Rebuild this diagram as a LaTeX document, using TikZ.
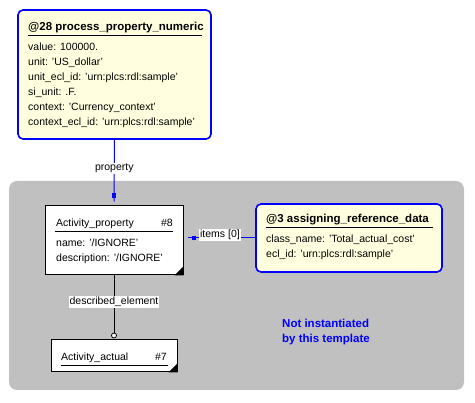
\documentclass[tikz,border=0pt]{standalone}
\usepackage{fontspec}
\setmainfont{Liberation Sans}
\usetikzlibrary{calc}
\definecolor{paleyellow}{RGB}{255,255,224}
\definecolor{panelgray}{RGB}{192,192,192}
\definecolor{pureblue}{RGB}{0,0,255}
\begin{document}
\begin{tikzpicture}[x=1pt,y=-1pt,
  entbox/.style={draw=pureblue, line width=1.6pt, rounded corners=5pt, fill=paleyellow, inner sep=0},
  objbox/.style={draw=black, line width=1pt, fill=white, inner sep=0},
  attr/.style={anchor=base west, inner sep=0, font=\fontsize{10.5}{12}\selectfont},
  attrr/.style={anchor=base east, inner sep=0, font=\fontsize{10.5}{12}\selectfont},
  ttl/.style={anchor=base west, inner sep=0, font=\fontsize{11.5}{13}\selectfont\bfseries},
  note/.style={anchor=base west, inner sep=0, text=pureblue, font=\fontsize{11.5}{13}\selectfont\bfseries},
  lbl/.style={fill=white, text=black, inner sep=1pt, font=\fontsize{10.5}{12}\selectfont},
  conn/.style={pureblue, line width=1pt},
  bconn/.style={black, line width=1pt},
  sq/.style={fill=pureblue, minimum size=4.5pt, inner sep=0},
  uline/.style={line width=1pt},
  corner/.style={fill=black}]
\useasboundingbox (0,0) rectangle (475,403);

% gray panel
\fill[panelgray, rounded corners=8pt] (9,181) rectangle (464,390);

% boxes
\node[entbox, minimum width=193pt, minimum height=129pt] (ppn) at (114.5,74.5) {};
\node[objbox, minimum width=138pt, minimum height=69pt] (ap) at (114,240.5) {};
\node[entbox, minimum width=186pt, minimum height=68pt] (asg) at (349,238) {};
\node[objbox, minimum width=126pt, minimum height=32pt] (aa) at (114,356) {};

% corner triangles
\fill[corner] (ap.south east) -- ++(-9,0) -- ++(9,-9) -- cycle;
\fill[corner] (aa.south east) -- ++(-9,0) -- ++(9,-9) -- cycle;

% texts: process_property_numeric
\node[ttl] (t1) at (28,31) {@28 process\_property\_numeric};
\draw[uline] (28,35.5) -- (202,35.5);
\node[attr] (a11) at (28,51) {value: 100000.};
\node[attr] (a12) at (28,66) {unit: 'US\_dollar'};
\node[attr] (a13) at (28,81) {unit\_ecl\_id: 'urn:plcs:rdl:sample'};
\node[attr] (a14) at (28,96) {si\_unit: .F.};
\node[attr] (a15) at (28,111) {context: 'Currency\_context'};
\node[attr] (a16) at (28,126) {context\_ecl\_id: 'urn:plcs:rdl:sample'};

% Activity_property
\node[attr] (t2) at (56,227) {Activity\_property};
\node[attrr] (n2) at (173,227) {\#8};
\draw[uline] (55,231.5) -- (173,231.5);
\node[attr] (a21) at (56,247) {name: '/IGNORE'};
\node[attr] (a22) at (56,262) {description: '/IGNORE'};

% assigning_reference_data
\node[ttl] (t3) at (266,223) {@3 assigning\_reference\_data};
\draw[uline] (266,227.5) -- (433,227.5);
\node[attr] (a31) at (266,243) {class\_name: 'Total\_actual\_cost'};
\node[attr] (a32) at (266,258) {ecl\_id: 'urn:plcs:rdl:sample'};

% Activity_actual
\node[attr] (t4) at (61,361) {Activity\_actual};
\node[attrr] (n4) at (167,361) {\#7};
\draw[uline] (61,365.5) -- (168,365.5);

% note
\node[note] (nt1) at (282,328) {Not instantiated};
\node[note] (nt2) at (282,343) {by this template};

% connectors
\coordinate (pend) at ($(ap.north)+(0,-4)$);
\draw[conn] (ppn.south) -- node[lbl, pos=0.46] {property} (pend);
\node[sq] (psq) at ($(ap.north)+(0,-10)$) {};

\coordinate (iend) at ($(asg.west -| ap.east)+(4,0)$);
\draw[conn] (asg.west) -- node[lbl, pos=0.52, yshift=3pt] {items [0]} (iend);
\node[sq] (isq) at ($(asg.west -| ap.east)+(10.5,0)$) {};

\node[circle, draw=black, fill=white, line width=0.8pt, minimum size=5pt, inner sep=0] (circ) at ($(aa.north)+(0,-4)$) {};
\draw[bconn] (ap.south) -- node[lbl, pos=0.46] {described\_element} (circ.north);
\end{tikzpicture}
\end{document}
